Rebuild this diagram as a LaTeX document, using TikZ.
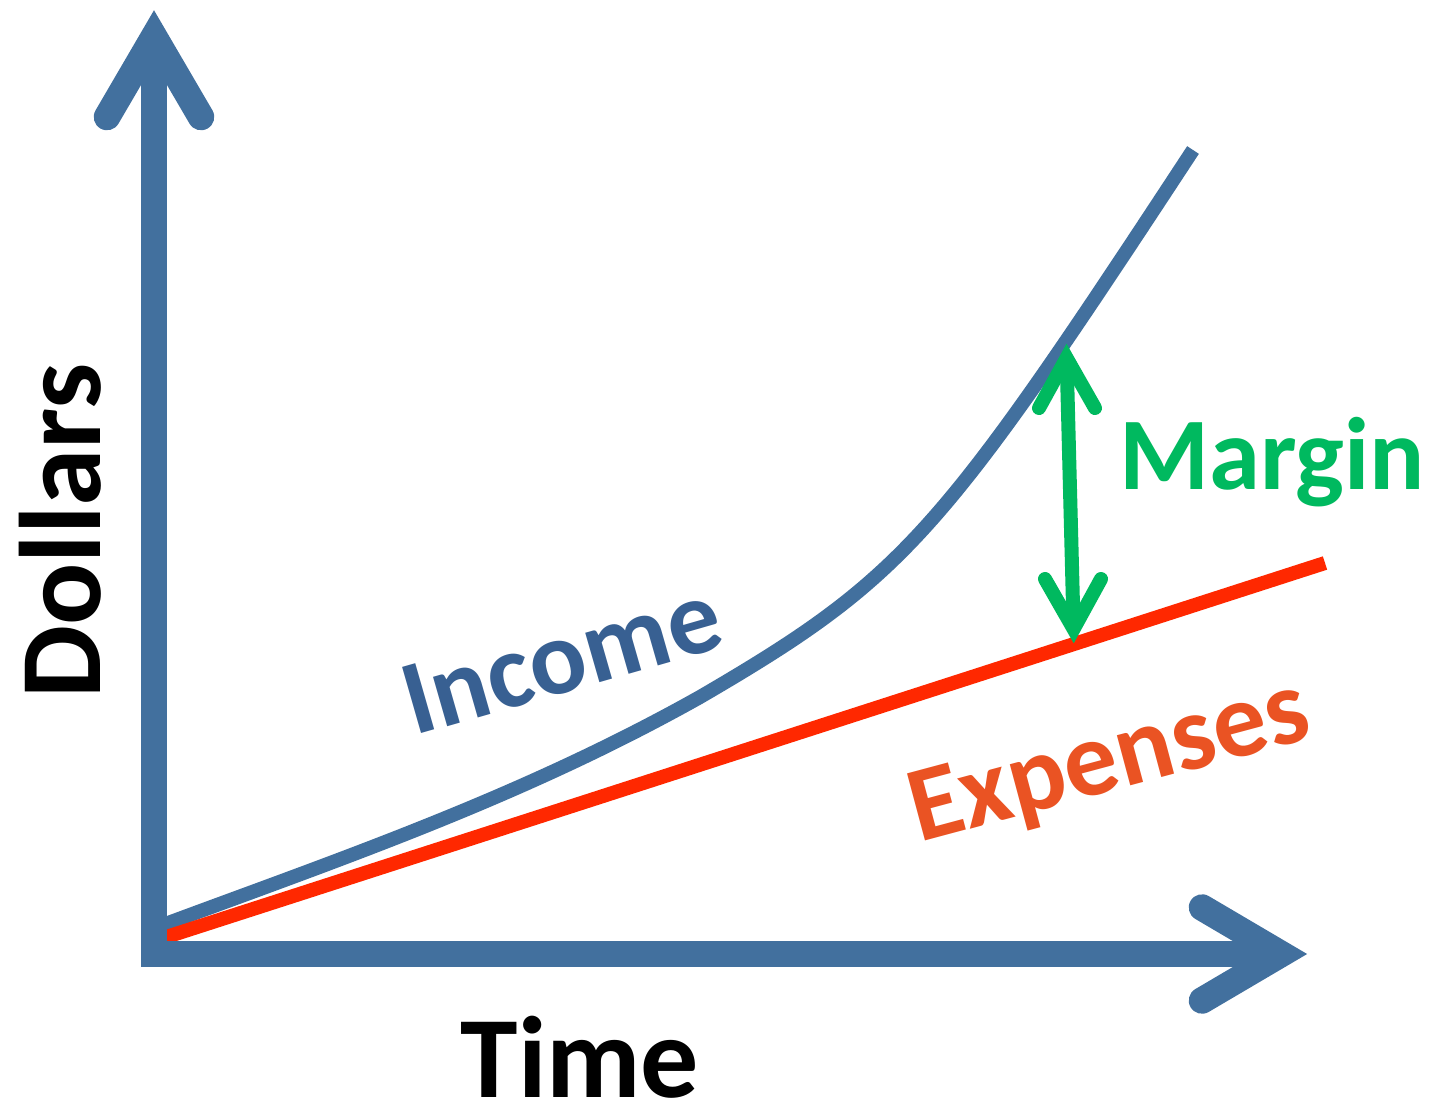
\documentclass[tikz,border=0pt]{standalone}
\usepackage{fontspec}
\setmainfont{Carlito}
\definecolor{axisblue}{RGB}{66,112,158}
\definecolor{incomeblue}{RGB}{56,96,146}
\definecolor{curveblue}{RGB}{66,112,158}
\definecolor{expred}{RGB}{255,40,0}
\definecolor{exptext}{RGB}{234,83,35}
\definecolor{margreen}{RGB}{0,185,95}
\begin{document}
\begin{tikzpicture}[x=1pt,y=-1pt,
  axisshaft/.style={draw=axisblue, line width=26.5pt, line join=miter},
  axishead/.style={draw=axisblue, line width=26.5pt, line cap=round, line join=miter},
  greenshaft/.style={draw=margreen, line width=14pt},
  greenhead/.style={draw=margreen, line width=14pt, line cap=round, line join=miter},
  bigtext/.style={inner sep=0pt, font=\fontsize{116}{120}\selectfont\bfseries},
  curvetext/.style={inner sep=0pt}]
\useasboundingbox (0,0) rectangle (1435,1104);
\fill[white] (0,0) rectangle (1435,1104);
% coordinates
\coordinate (O) at (154,954);
\coordinate (ytip) at (154,36.5);
\coordinate (xtip) at (1281,954);
\coordinate (incS) at (160,926);
\coordinate (incM) at (700,697);
\coordinate (incE) at (1193,150);
\coordinate (expS) at (160,939);
\coordinate (expE) at (1325,563);
% curves
\draw[curveblue, line width=14pt] (incS) .. controls (340,859) and (520,798) .. (incM)
  .. controls (906,577) and (941,534) .. (incE);
\draw[expred, line width=14pt] (expS) -- (expE);
% axes
\draw[axisshaft] (ytip) -- (O) -- (xtip);
\draw[axishead] (107,117) -- (ytip) -- (201,117);
\draw[axishead] (1202,907.5) -- (xtip) -- (1202,1000.5);
% margin arrow
\coordinate (mtop) at (1066.6,358);
\coordinate (mbot) at (1073.6,629);
\draw[greenshaft] (mtop) -- (mbot);
\draw[greenhead] (1039,408) -- (mtop) -- (1095,408);
\draw[greenhead] (1045,579) -- (mbot) -- (1101,579);
% labels
\node[bigtext, anchor=base, rotate=90] (dollars) at (100,531) {Dollars};
\node[bigtext, anchor=base] (time) at (580,1097) {Time};
\node[inner sep=0pt, anchor=base, text=margreen, font=\fontsize{103}{106}\selectfont\bfseries] (margin) at (1272,489) {Margin};
\node[curvetext, anchor=base, rotate=16, text=incomeblue, font=\fontsize{106}{110}\selectfont\bfseries] (income) at (571,691) {Income};
\node[curvetext, anchor=base, rotate=15, text=exptext, font=\fontsize{107}{110}\selectfont\bfseries] (expenses) at (1117,790) {Expenses};
\end{tikzpicture}
\end{document}
